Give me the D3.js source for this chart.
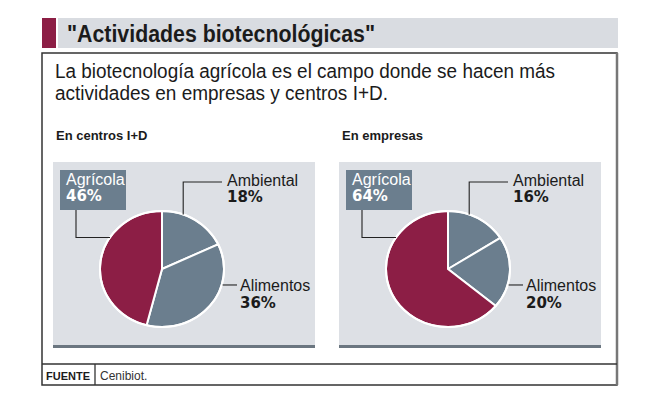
<!DOCTYPE html>
<html>
<head>
<meta charset="utf-8">
<script src="https://d3js.org/d3.v7.min.js"></script>
</head>
<body style="margin:0;padding:0;background:#fff;">
<div id="chart"></div>
<script>
// datos
const sliceNames = ["Ambiental", "Alimentos", "Agrícola"];
const centrosPct = [18, 36, 46];
const empresasPct = [16, 20, 64];
const panelTitles = ["En centros I+D", "En empresas"];
const headline = "\"Actividades biotecnológicas\"";
const subtitleLines = ["La biotecnología agrícola es el campo donde se hacen más",
                       "actividades en empresas y centros I+D."];
const sourceLabel = "FUENTE";
const sourceText = "Cenibiot.";

const W = 653, H = 398;
const crimson = "#8c1e45", slate = "#6b7e8e", panelBg = "#dde0e5", ink = "#1b1b1b";
const font = "'Liberation Sans', Arial, sans-serif";
const pctFont = "'DejaVu Sans', sans-serif";

const svg = d3.select("#chart").append("svg")
    .attr("width", W).attr("height", H)
    .style("font-family", font);

// barra de titulo
svg.append("rect").attr("x", 42).attr("y", 18).attr("width", 14).attr("height", 30).attr("fill", crimson);
svg.append("rect").attr("x", 58).attr("y", 18).attr("width", 560).attr("height", 30).attr("fill", "#d9dce1");
svg.append("text").attr("x", 67).attr("y", 42)
    .attr("textLength", 308).attr("lengthAdjust", "spacingAndGlyphs")
    .style("font-size", "23px").style("font-weight", "bold").style("fill", ink)
    .text(headline);

// marco
svg.append("rect").attr("x", 42).attr("y", 53).attr("width", 575).attr("height", 332)
    .attr("fill", "none").attr("stroke", "#333").attr("stroke-width", 1.5);
svg.append("line").attr("x1", 617).attr("x2", 617).attr("y1", 53).attr("y2", 385)
    .attr("stroke", "#777").attr("stroke-width", 2.5);
svg.append("line").attr("x1", 42).attr("x2", 617).attr("y1", 364).attr("y2", 364)
    .attr("stroke", "#333").attr("stroke-width", 1.3);
svg.append("line").attr("x1", 95).attr("x2", 95).attr("y1", 364).attr("y2", 385)
    .attr("stroke", "#333").attr("stroke-width", 1.3);

// subtitulo
svg.selectAll("text.sub").data(subtitleLines).enter().append("text")
    .attr("class", "sub")
    .attr("x", 55).attr("y", (d, i) => 78 + i * 22)
    .attr("textLength", (d, i) => i === 0 ? 500 : 333)
    .attr("lengthAdjust", "spacingAndGlyphs")
    .style("font-size", "20px").style("fill", ink)
    .text(d => d);

// fuente
svg.append("text").attr("x", 46).attr("y", 380)
    .style("font-size", "11px").style("font-weight", "bold").style("fill", ink)
    .text(sourceLabel);
svg.append("text").attr("x", 100).attr("y", 380)
    .style("font-size", "12px").style("fill", "#333")
    .text(sourceText);

// tortas
const panelW = 262, panelH = 183;
const rad = 62, squash = 0.935;
const pie = d3.pie().sort(null).value(d => d.value);
const arc = d3.arc().innerRadius(0).outerRadius(rad);
const color = d3.scaleOrdinal().domain(sliceNames).range([slate, slate, crimson]);

const panels = [
    { x: 53, title: panelTitles[0], values: centrosPct },
    { x: 339, title: panelTitles[1], values: empresasPct }
];

panels.forEach(p => {
    const data = sliceNames.map((n, i) => ({ name: n, value: p.values[i] }));
    const g = svg.append("g").attr("transform", `translate(${p.x},162)`);

    svg.append("text").attr("x", p.x + 3).attr("y", 140)
        .style("font-size", "13px").style("font-weight", "bold").style("fill", ink)
        .text(p.title);

    g.append("rect").attr("width", panelW).attr("height", panelH).attr("fill", panelBg);
    g.append("rect").attr("y", panelH).attr("width", panelW).attr("height", 3).attr("fill", "#6b7680");

    const cx = 109, cy = 107;
    const edge = deg => {
        const pt = d3.pointRadial(deg * Math.PI / 180, rad);
        return [cx + pt[0], cy + pt[1] * squash];
    };

    const pg = g.append("g").attr("transform", `translate(${cx},${cy}) scale(1,${squash})`);
    pg.selectAll("path").data(pie(data)).enter().append("path")
        .attr("d", arc)
        .attr("fill", d => color(d.data.name))
        .attr("stroke", "#fff").attr("stroke-width", 2)
        .attr("vector-effect", "non-scaling-stroke");
    pg.append("circle").attr("r", rad).attr("fill", "none")
        .attr("stroke", "#fff").attr("stroke-width", 2)
        .attr("vector-effect", "non-scaling-stroke");

    const lineStyle = sel => sel.attr("fill", "none").attr("stroke", "#222").attr("stroke-width", 1.1);
    const pctStyle = sel => sel.style("font-family", pctFont).style("font-size", "15px").style("font-weight", "bold");

    // Agrícola
    const a = edge(-57);
    g.append("path").attr("d", `M23,48V${a[1]}H${a[0]}`).call(lineStyle);
    g.append("rect").attr("x", 7).attr("y", 8).attr("width", 66).attr("height", 40).attr("fill", slate);
    g.append("text").attr("x", 13).attr("y", 23)
        .style("font-size", "16px").style("fill", "#fff").text(data[2].name);
    g.append("text").attr("x", 13).attr("y", 39).call(pctStyle)
        .style("fill", "#fff")
        .text(data[2].value + "%");

    // Ambiental
    const b = edge(20);
    g.append("path").attr("d", `M${b[0]},${b[1]}V20H169`).call(lineStyle);
    g.append("text").attr("x", 174).attr("y", 24)
        .style("font-size", "16px").style("fill", ink).text(data[0].name);
    g.append("text").attr("x", 174).attr("y", 40).call(pctStyle)
        .style("fill", ink)
        .text(data[0].value + "%");

    // Alimentos
    const c = edge(106);
    g.append("path").attr("d", `M${c[0] + 1},${c[1]}H184`).call(lineStyle);
    g.append("text").attr("x", 187).attr("y", 129)
        .style("font-size", "16px").style("fill", ink).text(data[1].name);
    g.append("text").attr("x", 187).attr("y", 146).call(pctStyle)
        .style("fill", ink)
        .text(data[1].value + "%");
});
</script>
</body>
</html>
